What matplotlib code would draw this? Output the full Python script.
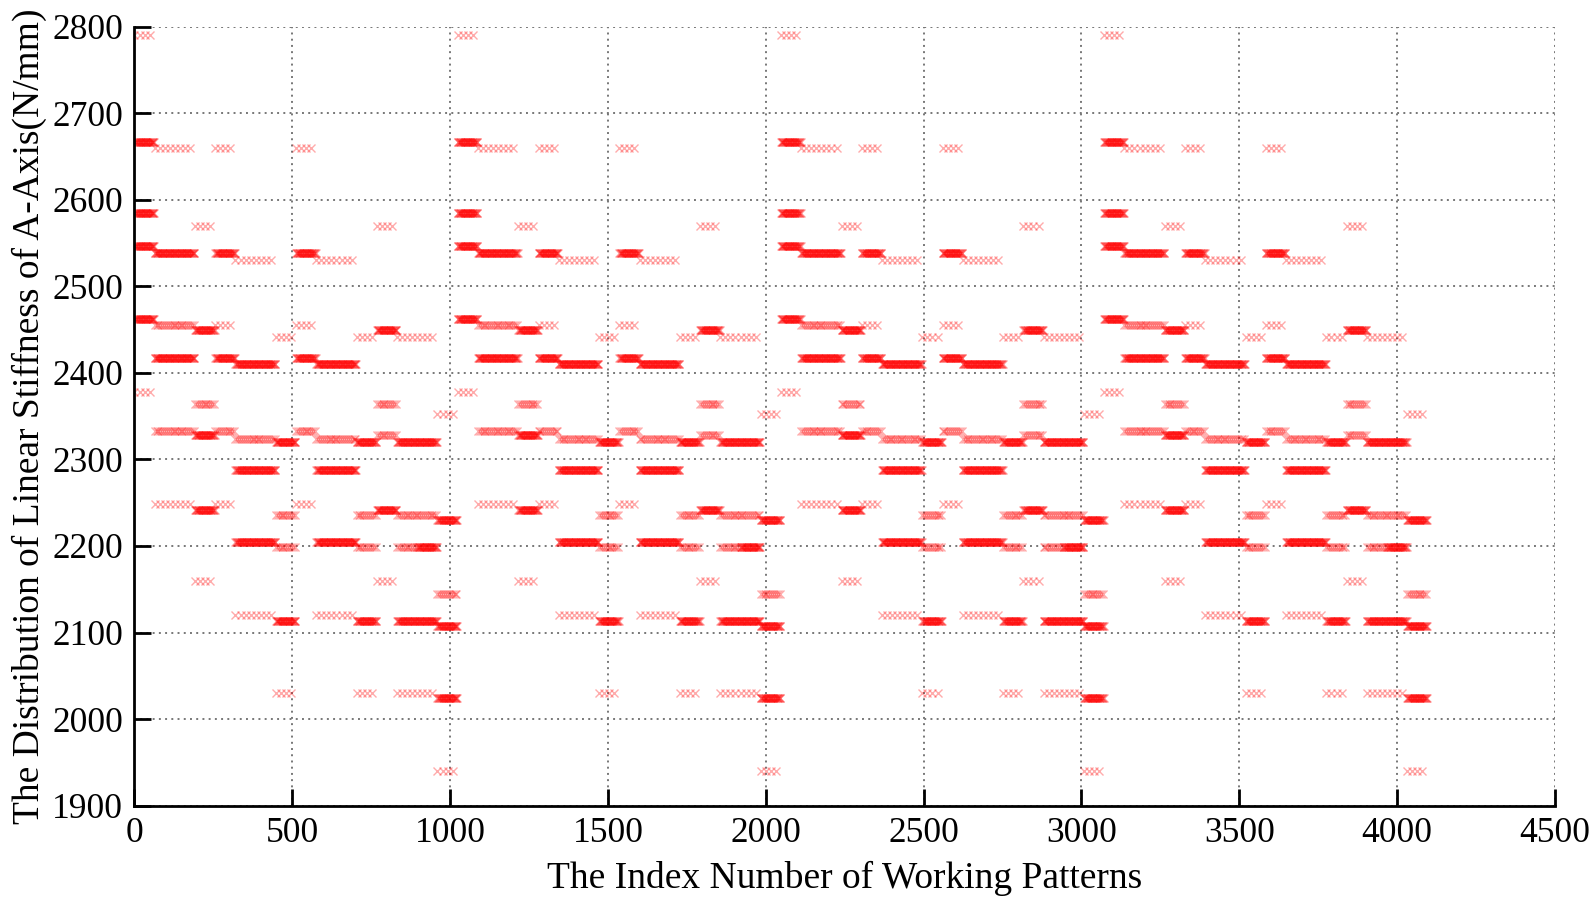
import numpy as np
import matplotlib
matplotlib.use("Agg")
import matplotlib.pyplot as plt

# stiffness levels (N/mm) of the six lines seen inside one 64-pattern segment
grp_levels = {
    "A": [2790, 2667, 2585, 2547, 2462, 2378],
    "B": [2660, 2538, 2455, 2417, 2333, 2248],
    "b": [2660, 2538, 2455, 2417, 2333, 2248],
    "C": [2570, 2449, 2364, 2328, 2242, 2160],
    "c": [2570, 2449, 2364, 2328, 2242, 2160],
    "D": [2530, 2410, 2324, 2288, 2205, 2120],
    "E": [2442, 2320, 2236, 2199, 2113, 2030],
    "e": [2442, 2320, 2236, 2199, 2113, 2030],
    "F": [2352, 2230, 2145, 2108, 2024, 1940],
}
# how many patterns fall on each line: L few, M some, D many
grp_dens = {
    "A": "LDDDDL",
    "B": "LDMDML",
    "b": "LDLDML",
    "C": "LDMDDL",
    "c": "LDMMDL",
    "D": "LDMDDL",
    "E": "LDMMDL",
    "e": "LDMDDL",
    "F": "LDMDDL",
}
dens_step = {"L": 16, "M": 6, "D": 2}

seg_width = 64
# group of every 64-index segment, four blocks of 1024 patterns
seg_groups = ("ABBCbDDEbDDEcEeF"
              "ABBCbDDEbDDEcEeF"
              "ABBCbDDEbDDEcEeF"
              "ABBCbDDEbDDEcEeF")

xs, ys = [], []
for k, g in enumerate(seg_groups):
    start = k * seg_width
    for lev, d in zip(grp_levels[g], grp_dens[g]):
        idx = np.arange(start, start + seg_width, dens_step[d])
        xs.append(idx)
        ys.append(np.full(len(idx), lev))
xs = np.concatenate(xs)
ys = np.concatenate(ys)

plt.rcParams['font.family'] = ['Liberation Serif', 'DejaVu Serif']

fig = plt.figure(figsize=(15.95, 9.05), dpi=100)
ax = fig.add_axes([0.0843, 0.1098, 0.8906, 0.8607])

ax.plot(xs, ys, linestyle="none", marker="x", color="red",
        markersize=5.5, markeredgewidth=1.0, alpha=0.33)

ax.set_xlim(0, 4500)
ax.set_ylim(1900, 2800)
ax.set_xticks(np.arange(0, 4501, 500))
ax.set_yticks(np.arange(1900, 2801, 100))
ax.grid(True, linestyle=(0, (1, 2.2)), color="#777777", linewidth=1.4)
ax.set_axisbelow(True)

for s in ["top", "right"]:
    ax.spines[s].set_visible(False)
for s in ["left", "bottom"]:
    ax.spines[s].set_linewidth(2)
ax.tick_params(direction="in", length=12, width=2, labelsize=25.5, pad=8)

ax.set_xlabel("The Index Number of Working Patterns", fontsize=27, labelpad=8)
ax.set_ylabel("The Distribution of Linear Stiffness of A-Axis(N/mm)", fontsize=27, labelpad=4)

fig.savefig("out.png", dpi=100)
